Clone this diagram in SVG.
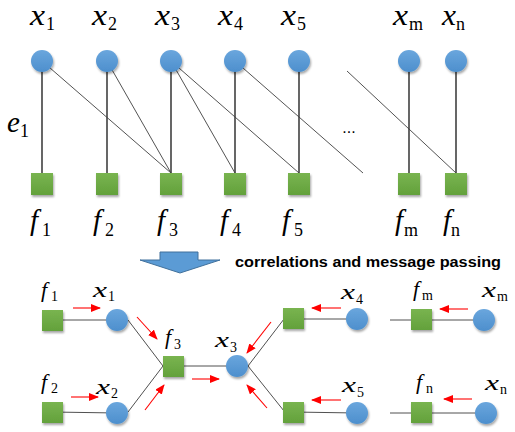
<svg xmlns="http://www.w3.org/2000/svg" width="515" height="432" viewBox="0 0 515 432">
<defs>
  <filter id="sh" x="-40%" y="-40%" width="180%" height="180%">
    <feDropShadow dx="1" dy="2" stdDeviation="1.2" flood-color="#000" flood-opacity="0.35"/>
  </filter>
  <linearGradient id="gb" x1="0" y1="0" x2="0" y2="1">
    <stop offset="0" stop-color="#6aa6dd"/>
    <stop offset="1" stop-color="#4d8fcd"/>
  </linearGradient>
  <linearGradient id="gg" x1="0" y1="0" x2="0" y2="1">
    <stop offset="0" stop-color="#79b450"/>
    <stop offset="1" stop-color="#63a13b"/>
  </linearGradient>
  <marker id="ah" markerWidth="10" markerHeight="8" refX="9" refY="4" orient="auto" markerUnits="userSpaceOnUse">
    <path d="M0,0 L10,4 L0,8 Z" fill="#ff0000"/>
  </marker>
</defs>
<style>
  .var { fill: url(#gb); filter: url(#sh); }
  .fac { fill: url(#gg); filter: url(#sh); }
  .vl { stroke: #000; stroke-width: 1.2; fill: none; }
  .dl { stroke: #404040; stroke-width: 0.9; fill: none; }
  .bl { stroke: #505050; stroke-width: 1; fill: none; }
  .ra { stroke: #ff0000; stroke-width: 1.1; fill: none; marker-end: url(#ah); }
  .m { font-family: "Liberation Serif", "Times New Roman", serif; font-style: italic; fill: #000; }
  .s { font-family: "Liberation Serif", "Times New Roman", serif; font-style: normal; fill: #000; }
  .big { font-size: 29px; }
  .bsub { font-size: 18px; }
  .sm { font-size: 22px; }
  .ssub { font-size: 14px; }
  .cap { font-family: "Liberation Sans", Arial, sans-serif; font-weight: bold; font-size: 14px; fill: #000; }
</style>

<!-- connectors -->
<g id="connectors">
  <!-- top graph -->
  <line class="vl" x1="42" y1="61" x2="42" y2="174"/>
  <line class="vl" x1="107" y1="61" x2="107" y2="174"/>
  <line class="vl" x1="171" y1="61" x2="171" y2="174"/>
  <line class="vl" x1="235" y1="61" x2="235" y2="174"/>
  <line class="vl" x1="299" y1="61" x2="299" y2="174"/>
  <line class="vl" x1="409" y1="61" x2="409" y2="174"/>
  <line class="vl" x1="456" y1="61" x2="456" y2="174"/>
  <line class="dl" x1="42" y1="61" x2="171" y2="173"/>
  <line class="dl" x1="107" y1="61" x2="171" y2="173"/>
  <line class="dl" x1="171" y1="61" x2="235" y2="173"/>
  <line class="dl" x1="171" y1="61" x2="299" y2="173"/>
  <line class="dl" x1="235" y1="61" x2="363" y2="173"/>
  <line class="dl" x1="347" y1="71" x2="456" y2="173"/>
  <!-- bottom graph -->
  <line class="bl" x1="52" y1="320" x2="117" y2="320"/>
  <line class="bl" x1="52" y1="412" x2="117" y2="413"/>
  <line class="bl" x1="128" y1="320" x2="163" y2="366"/>
  <line class="bl" x1="128" y1="412" x2="163" y2="366"/>
  <line class="bl" x1="173" y1="366" x2="237" y2="366"/>
  <line class="bl" x1="248" y1="366" x2="284" y2="319"/>
  <line class="bl" x1="248" y1="366" x2="284" y2="411"/>
  <line class="bl" x1="293" y1="319" x2="357" y2="319"/>
  <line class="bl" x1="293" y1="412" x2="357" y2="413"/>
  <line class="bl" x1="390" y1="320" x2="484" y2="320"/>
  <line class="bl" x1="390" y1="413" x2="486" y2="413"/>
  <!-- red message arrows -->
  <line class="ra" x1="73" y1="308" x2="100" y2="308"/>
  <line class="ra" x1="71" y1="397" x2="98" y2="397"/>
  <line class="ra" x1="137" y1="317" x2="157" y2="339"/>
  <line class="ra" x1="145" y1="410" x2="164" y2="385"/>
  <line class="ra" x1="192" y1="379" x2="219" y2="379"/>
  <line class="ra" x1="271" y1="322" x2="247" y2="353"/>
  <line class="ra" x1="267" y1="408" x2="247" y2="385"/>
  <line class="ra" x1="341" y1="308" x2="312" y2="308"/>
  <line class="ra" x1="341" y1="400" x2="312" y2="400"/>
  <line class="ra" x1="468" y1="309" x2="440" y2="309"/>
  <line class="ra" x1="472" y1="399" x2="444" y2="399"/>
</g>

<!-- top variable nodes -->
<g id="x1"><circle class="var" cx="42" cy="61" r="11"/><text class="m big" x="30" y="25" textLength="15" lengthAdjust="spacingAndGlyphs">x</text><text class="s bsub" x="46" y="30">1</text></g>
<g id="x2"><circle class="var" cx="107" cy="61" r="11"/><text class="m big" x="92" y="25" textLength="15" lengthAdjust="spacingAndGlyphs">x</text><text class="s bsub" x="108" y="30">2</text></g>
<g id="x3"><circle class="var" cx="171" cy="61" r="11"/><text class="m big" x="155" y="25" textLength="15" lengthAdjust="spacingAndGlyphs">x</text><text class="s bsub" x="171" y="30">3</text></g>
<g id="x4"><circle class="var" cx="235" cy="61" r="11"/><text class="m big" x="218" y="25" textLength="15" lengthAdjust="spacingAndGlyphs">x</text><text class="s bsub" x="234" y="30">4</text></g>
<g id="x5"><circle class="var" cx="299" cy="61" r="11"/><text class="m big" x="281" y="25" textLength="15" lengthAdjust="spacingAndGlyphs">x</text><text class="s bsub" x="297" y="30">5</text></g>
<g id="xm"><circle class="var" cx="409" cy="61" r="11"/><text class="m big" x="393" y="25" textLength="15" lengthAdjust="spacingAndGlyphs">x</text><text class="s bsub" x="409" y="30">m</text></g>
<g id="xn"><circle class="var" cx="456" cy="61" r="11"/><text class="m big" x="442" y="25" textLength="14" lengthAdjust="spacingAndGlyphs">x</text><text class="s bsub" x="456" y="30">n</text></g>

<!-- top factor nodes -->
<g id="f1"><rect class="fac" x="31" y="173" width="22" height="22"/><text class="m big" x="30" y="230">f</text><text class="s bsub" x="42" y="236">1</text></g>
<g id="f2"><rect class="fac" x="96" y="173" width="22" height="22"/><text class="m big" x="93" y="230">f</text><text class="s bsub" x="105" y="236">2</text></g>
<g id="f3"><rect class="fac" x="160" y="173" width="22" height="22"/><text class="m big" x="157" y="230">f</text><text class="s bsub" x="169" y="236">3</text></g>
<g id="f4"><rect class="fac" x="224" y="173" width="22" height="22"/><text class="m big" x="220" y="230">f</text><text class="s bsub" x="232" y="236">4</text></g>
<g id="f5"><rect class="fac" x="288" y="173" width="22" height="22"/><text class="m big" x="282" y="230">f</text><text class="s bsub" x="294" y="236">5</text></g>
<g id="fm"><rect class="fac" x="398" y="173" width="22" height="22"/><text class="m big" x="395" y="230">f</text><text class="s bsub" x="404" y="236">m</text></g>
<g id="fn"><rect class="fac" x="445" y="173" width="22" height="22"/><text class="m big" x="443" y="230">f</text><text class="s bsub" x="451" y="236">n</text></g>

<g id="e1"><text class="m big" x="7" y="132">e</text><text class="s bsub" x="20" y="137">1</text></g>
<g id="dots"><text x="349" y="133" text-anchor="middle" font-family="Liberation Sans, Arial, sans-serif" font-size="16" fill="#000">...</text></g>

<!-- transition arrow and caption -->
<g id="down-arrow">
  <polygon points="160,252 198,252 198,260 220,260 180,273 140,260 160,260" fill="#5b9bd5" stroke="#41719c" stroke-width="1"/>
</g>
<g id="caption"><text class="cap" x="235" y="267" textLength="266" lengthAdjust="spacingAndGlyphs">correlations and message passing</text></g>

<!-- bottom graph nodes -->
<g id="b-f1"><rect class="fac" x="42" y="310" width="21" height="21"/><text class="m sm" x="41" y="297">f</text><text class="s ssub" x="51" y="301">1</text></g>
<g id="b-x1"><circle class="var" cx="117" cy="320" r="11"/><text class="m sm" x="93" y="297" textLength="14" lengthAdjust="spacingAndGlyphs">x</text><text class="s ssub" x="108" y="301">1</text></g>
<g id="b-f2"><rect class="fac" x="42" y="402" width="21" height="21"/><text class="m sm" x="41" y="389">f</text><text class="s ssub" x="51" y="393">2</text></g>
<g id="b-x2"><circle class="var" cx="117" cy="413" r="11"/><text class="m sm" x="96" y="394" textLength="14" lengthAdjust="spacingAndGlyphs">x</text><text class="s ssub" x="111" y="398">2</text></g>
<g id="b-f3"><rect class="fac" x="163" y="356" width="21" height="21"/><text class="m sm" x="165" y="344">f</text><text class="s ssub" x="174" y="349">3</text></g>
<g id="b-x3"><circle class="var" cx="237" cy="366" r="11"/><text class="m sm" x="215" y="347" textLength="14" lengthAdjust="spacingAndGlyphs">x</text><text class="s ssub" x="230" y="352">3</text></g>
<g id="b-f4"><rect class="fac" x="283" y="308" width="21" height="21"/></g>
<g id="b-x4"><circle class="var" cx="357" cy="319" r="11"/><text class="m sm" x="341" y="299" textLength="14" lengthAdjust="spacingAndGlyphs">x</text><text class="s ssub" x="356" y="304">4</text></g>
<g id="b-f5"><rect class="fac" x="283" y="402" width="21" height="21"/></g>
<g id="b-x5"><circle class="var" cx="357" cy="413" r="11"/><text class="m sm" x="342" y="392" textLength="14" lengthAdjust="spacingAndGlyphs">x</text><text class="s ssub" x="357" y="397">5</text></g>
<g id="b-fm"><rect class="fac" x="411" y="309" width="21" height="21"/><text class="m sm" x="413" y="296">f</text><text class="s ssub" x="422" y="300">m</text></g>
<g id="b-xm"><circle class="var" cx="484" cy="320" r="11"/><text class="m sm" x="482" y="297" textLength="14" lengthAdjust="spacingAndGlyphs">x</text><text class="s ssub" x="497" y="301">m</text></g>
<g id="b-fn"><rect class="fac" x="411" y="402" width="21" height="21"/><text class="m sm" x="416" y="389">f</text><text class="s ssub" x="426" y="393">n</text></g>
<g id="b-xn"><circle class="var" cx="486" cy="413" r="11"/><text class="m sm" x="485" y="390" textLength="14" lengthAdjust="spacingAndGlyphs">x</text><text class="s ssub" x="500" y="394">n</text></g>
</svg>
